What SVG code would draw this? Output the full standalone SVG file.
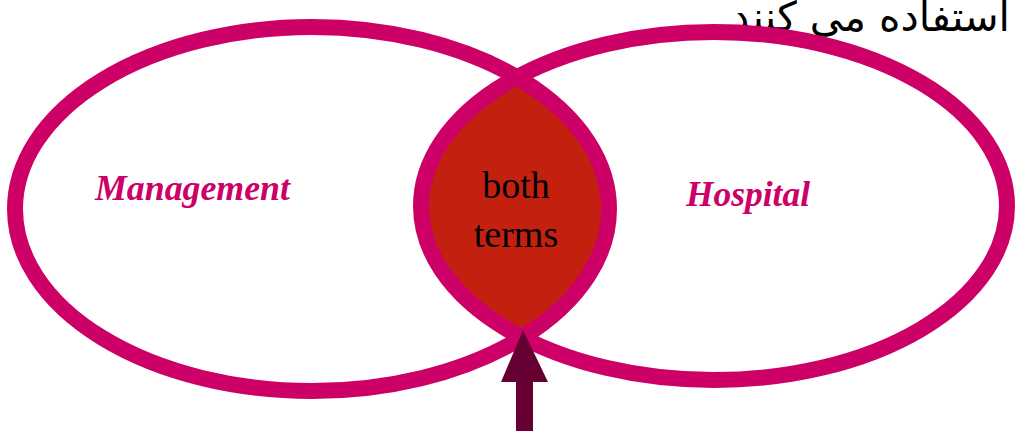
<svg xmlns="http://www.w3.org/2000/svg" width="1019" height="431" viewBox="0 0 1019 431">
<style>
.ring{fill:none;stroke:#CC0066;stroke-width:16}
.lbl{font-family:"Liberation Serif",serif;font-style:italic;font-weight:bold;font-size:35px;fill:#CC0066}
.mid{font-family:"Liberation Serif",serif;font-size:38px;fill:#000;text-anchor:middle}
</style>
<defs>
<clipPath id="cr"><ellipse cx="714" cy="206" rx="293" ry="174"/></clipPath>
</defs>
<text x="1010" y="31" font-family="'DejaVu Sans',sans-serif" font-size="41" text-anchor="end">استفاده می کنند</text>
<g id="lens"><ellipse cx="312" cy="209" rx="297" ry="182" fill="#C42010" clip-path="url(#cr)"/></g>
<g id="management"><ellipse class="ring" cx="312" cy="209" rx="297" ry="182"/><text class="lbl" x="95" y="200" textLength="195" lengthAdjust="spacingAndGlyphs">Management</text></g>
<g id="hospital"><ellipse class="ring" cx="714" cy="206" rx="293" ry="174"/><text class="lbl" x="686" y="206" textLength="124" lengthAdjust="spacingAndGlyphs">Hospital</text></g>
<g id="both"><text class="mid" x="516" y="198">both</text><text class="mid" x="516" y="247">terms</text></g>
<g id="connectors"><polygon points="523,330 548,382 533,382 533,431 516,431 516,382 501,382" fill="#660033"/></g>
</svg>
